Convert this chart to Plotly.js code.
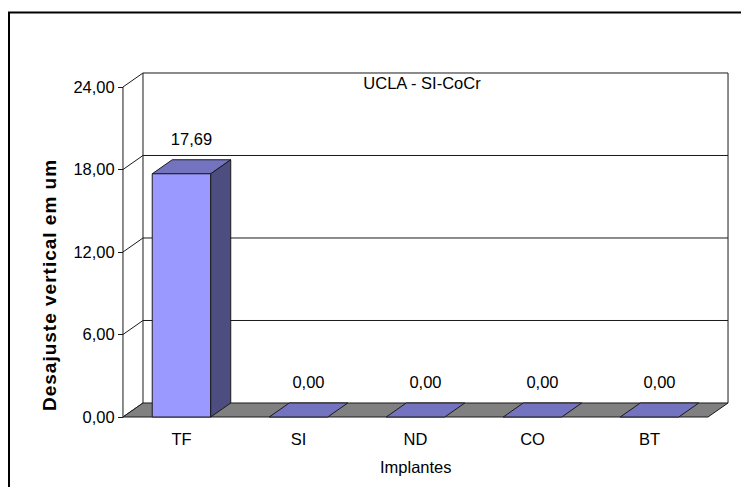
<!DOCTYPE html>
<html>
<head>
<meta charset="utf-8">
<script src="https://cdn.plot.ly/plotly-3.0.1.min.js"></script>
<style>
  html, body { margin: 0; padding: 0; background: #fff; }
  #chart { width: 741px; height: 487px; }
  /* stretch the vertical axis caption a little */
  g.annotation[data-index="0"] text { letter-spacing: 1px; }
</style>
</head>
<body>
<div id="chart"></div>
<script>
// ---- data ----
const categories = ['TF', 'SI', 'ND', 'CO', 'BT'];
const values = [17.69, 0.00, 0.00, 0.00, 0.00];
const yTicks = [0, 6, 12, 18, 24];
const chartTitle = 'UCLA - SI-CoCr';
const xTitle = 'Implantes';
const yTitle = 'Desajuste vertical em um';

// ---- 3D look (depth offset of the box, in axis units) ----
const DEPTH_X = 0.171;
const DEPTH_Y = 1.02;
const PAD_X = 0.034;
const PAD_Y = 0.29;
const HALF = 0.25;          // half bar width, in categories
const LABEL_LIFT = 1.4;

const FRONT = '#9999FF', TOP = '#7373C0', SIDE = '#4D4D80', FLOOR = '#808080';
const LINE = '#1a1a1a';
const FONT = 'Liberation Sans, Arial, sans-serif';

const W = 741, H = 487;
const M = { l: 119, r: 9, t: 69, b: 66 };

const n = categories.length;
const yMax = yTicks[yTicks.length - 1];
const xRange = [-0.5 - PAD_X, n - 0.5 + DEPTH_X + PAD_X];
const yRange = [-PAD_Y, yMax + DEPTH_Y + PAD_Y];

const x0 = -0.5, x1 = n - 0.5;

// helpers: polygons and line segments joined with null gaps
function joinPolys(polys) {
  const xs = [], ys = [];
  polys.forEach((p, k) => {
    if (k) { xs.push(null); ys.push(null); }
    p.forEach(([a, b]) => { xs.push(a); ys.push(b); });
    xs.push(p[0][0]); ys.push(p[0][1]);
  });
  return { x: xs, y: ys };
}
function joinSegs(segs) {
  const xs = [], ys = [];
  segs.forEach(s => {
    s.forEach(([a, b]) => { xs.push(a); ys.push(b); });
    xs.push(null); ys.push(null);
  });
  return { x: xs, y: ys };
}

// walls: back wall frame + gridlines, left wall diagonals, front axis line
const wallSegs = [];
wallSegs.push([[x0 + DEPTH_X, DEPTH_Y], [x0 + DEPTH_X, yMax + DEPTH_Y], [x1 + DEPTH_X, yMax + DEPTH_Y], [x1 + DEPTH_X, DEPTH_Y]]);
yTicks.forEach(v => {
  if (v > 0 && v < yMax) wallSegs.push([[x0 + DEPTH_X, v + DEPTH_Y], [x1 + DEPTH_X, v + DEPTH_Y]]);
  wallSegs.push([[x0, v], [x0 + DEPTH_X, v + DEPTH_Y]]);
});
wallSegs.push([[x0, 0], [x0, yMax]]);
const walls = joinSegs(wallSegs);

const floor = joinPolys([[[x0, 0], [x1, 0], [x1 + DEPTH_X, DEPTH_Y], [x0 + DEPTH_X, DEPTH_Y]]]);

const fronts = [], tops = [], sides = [];
values.forEach((v, i) => {
  const a = i - HALF, b = i + HALF;
  if (v > 0) {
    fronts.push([[a, 0], [b, 0], [b, v], [a, v]]);
    sides.push([[b, 0], [b + DEPTH_X, DEPTH_Y], [b + DEPTH_X, v + DEPTH_Y], [b, v]]);
  }
  tops.push([[a, v], [b, v], [b + DEPTH_X, v + DEPTH_Y], [a + DEPTH_X, v + DEPTH_Y]]);
});

function poly(d, fill) {
  return {
    type: 'scatter', mode: 'lines', x: d.x, y: d.y,
    fill: 'toself', fillcolor: fill,
    line: { color: LINE, width: 1 },
    hoverinfo: 'skip', showlegend: false
  };
}

const traces = [
  {
    type: 'scatter', mode: 'lines', x: walls.x, y: walls.y,
    line: { color: LINE, width: 1 }, connectgaps: false,
    hoverinfo: 'skip', showlegend: false
  },
  poly(floor, FLOOR),
  poly(joinPolys(tops), TOP),
  poly(joinPolys(fronts), FRONT),
  poly(joinPolys(sides), SIDE),
  {
    type: 'scatter', mode: 'text',
    x: values.map((v, i) => i + DEPTH_X / 2),
    y: values.map(v => v + DEPTH_Y + LABEL_LIFT),
    text: values.map(v => v.toFixed(2).replace('.', ',')),
    textposition: 'middle center',
    textfont: { family: FONT, size: 16.5, color: '#000' },
    cliponaxis: false, hoverinfo: 'skip', showlegend: false
  }
];

const pw = W - M.l - M.r, ph = H - M.t - M.b;
const paperX = px => (px - M.l) / pw;
const paperY = py => (H - M.b - py) / ph;

const layout = {
  width: W, height: H,
  margin: M,
  paper_bgcolor: '#fff', plot_bgcolor: '#fff',
  separators: ',.',
  font: { family: FONT, size: 16.5, color: '#000' },
  title: {
    text: chartTitle,
    font: { family: FONT, size: 16.5, color: '#000' },
    xref: 'container', yref: 'container',
    x: 0.5695, y: 0.83, xanchor: 'center', yanchor: 'middle'
  },
  xaxis: {
    range: xRange, fixedrange: true,
    tickvals: categories.map((c, i) => i), ticktext: categories,
    ticks: '', showline: false, showgrid: false, zeroline: false,
    ticklabelstandoff: 6,
    tickfont: { family: FONT, size: 16.5, color: '#000' }
  },
  yaxis: {
    range: yRange, fixedrange: true,
    anchor: 'free', position: PAD_X / (xRange[1] - xRange[0]),
    tickvals: yTicks, tickformat: '.2f',
    ticks: 'outside', ticklen: 5, tickwidth: 1, tickcolor: LINE,
    showline: false, showgrid: false, zeroline: false,
    tickfont: { family: FONT, size: 16.5, color: '#000' }
  },
  annotations: [
    {
      text: yTitle, textangle: -90, showarrow: false,
      xref: 'paper', yref: 'paper', x: paperX(49), y: paperY(285),
      xanchor: 'center', yanchor: 'middle',
      font: { family: FONT, size: 19, color: '#000', weight: 'bold' }
    },
    {
      text: xTitle, showarrow: false,
      xref: 'x', yref: 'paper', x: (n - 1) / 2, y: paperY(467),
      xanchor: 'center', yanchor: 'middle',
      font: { family: FONT, size: 16.5, color: '#000' }
    }
  ],
  shapes: [
    {
      type: 'path', xref: 'paper', yref: 'paper',
      path: `M ${paperX(9)},${paperY(H + 5)} L ${paperX(9)},${paperY(12.5)} L ${paperX(W + 5)},${paperY(12.5)}`,
      line: { color: '#000', width: 2 }
    }
  ]
};

Plotly.newPlot('chart', traces, layout, { displayModeBar: false, staticPlot: true });
</script>
</body>
</html>
